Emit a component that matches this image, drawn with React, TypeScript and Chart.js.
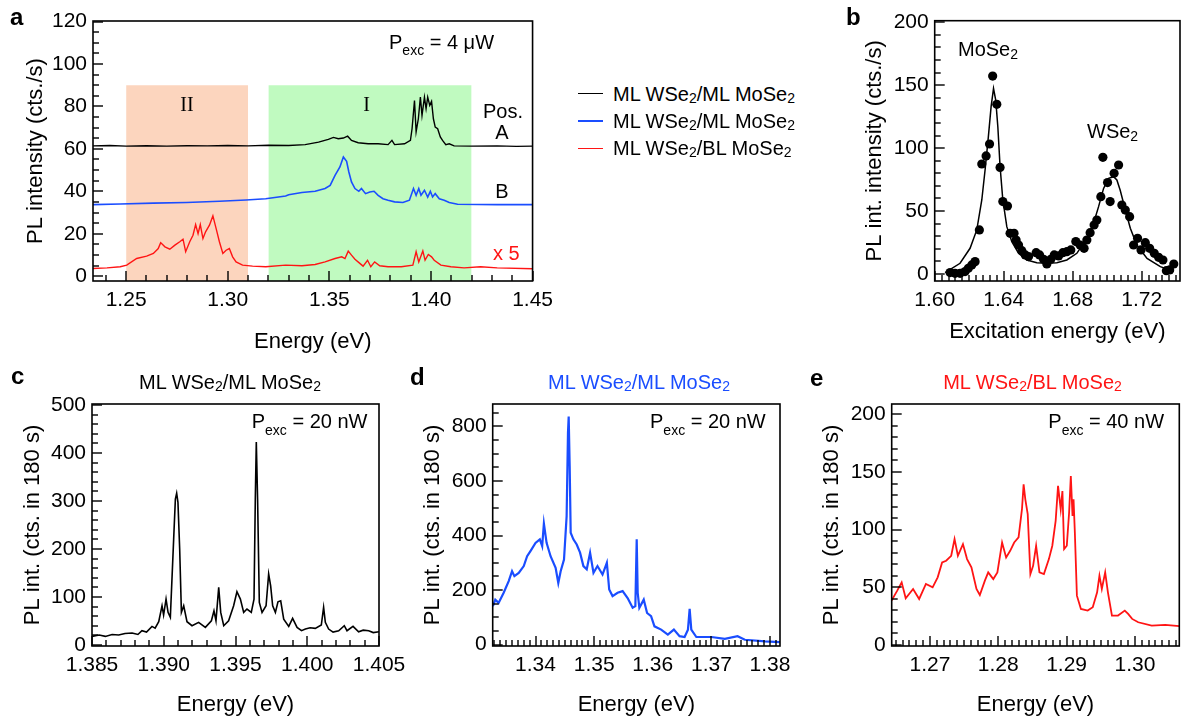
import React, { useEffect, useRef } from 'react';
import { Chart, registerables } from 'chart.js';

Chart.register(...registerables);

type Pt = [number, number];

const FONT = '"Liberation Sans", Arial, Helvetica, sans-serif';
const SERIF = '"Liberation Serif", "Times New Roman", serif';
const C_BLACK = '#000000';
const C_BLUE = '#1a4dff';
const C_RED = '#ff1414';
const C_ORANGE = 'rgb(252,213,190)';
const C_GREEN = 'rgb(192,250,192)';

// ---------------- Panel a ----------------
const aXTicks = [1.25, 1.3, 1.35, 1.4, 1.45];
const aYTicks = [0, 20, 40, 60, 80, 100, 120];
const aRegionII: Pt[] = [[1.25, 90], [1.31, 90]];
const aRegionI: Pt[] = [[1.32, 90], [1.42, 90]];
const aPosA: Pt[] = [
  [1.2337, 61.4], [1.242, 61.6], [1.25, 61.3], [1.26, 61.5], [1.27, 61.3], [1.28, 61.5], [1.29, 61.4],
  [1.3, 61.6], [1.31, 61.4], [1.32, 61.7], [1.33, 61.6], [1.3381, 62.0], [1.3447, 63.2], [1.3495, 64.5],
  [1.352, 65.4], [1.3544, 64.8], [1.3569, 65.1], [1.359, 66.0], [1.3609, 64.0], [1.3642, 62.9], [1.3691, 62.4],
  [1.374, 62.4], [1.3789, 62.0], [1.3808, 64.0], [1.3821, 62.0], [1.387, 62.4], [1.3899, 64.0], [1.3907, 69.5],
  [1.3919, 82.8], [1.3927, 68.0], [1.3938, 74.2], [1.3948, 84.4], [1.3956, 75.8], [1.3968, 84.4], [1.3976, 78.9],
  [1.3984, 84.4], [1.3994, 80.5], [1.4003, 82.4], [1.4012, 74.2], [1.4021, 70.3], [1.4033, 69.5], [1.4046, 65.6],
  [1.4057, 64.0], [1.4073, 62.0], [1.409, 62.4], [1.4114, 61.4], [1.42, 61.3], [1.4326, 61.4], [1.442, 61.2], [1.45, 61.3],
];
const aPosB: Pt[] = [
  [1.2337, 33.7], [1.2471, 34.0], [1.2634, 34.4], [1.2797, 34.7], [1.2959, 35.3], [1.309, 35.9], [1.3187, 36.5],
  [1.3285, 37.8], [1.33, 38.4], [1.3365, 39.4], [1.343, 40.0], [1.3479, 41.3], [1.3504, 42.8], [1.3528, 47.5],
  [1.3552, 51.5], [1.3569, 56.2], [1.3585, 54.1], [1.3596, 49.1], [1.3609, 44.4], [1.3626, 41.3], [1.3645, 40.0],
  [1.3658, 41.3], [1.3678, 38.9], [1.3699, 39.7], [1.372, 40.0], [1.374, 38.1], [1.3764, 36.5], [1.3789, 35.8],
  [1.3821, 35.0], [1.3862, 34.7], [1.3894, 35.8], [1.3914, 41.3], [1.3927, 38.1], [1.394, 41.3], [1.3951, 38.1],
  [1.3968, 40.5], [1.3984, 37.3], [1.3997, 40.0], [1.4008, 37.3], [1.4021, 38.9], [1.4041, 36.5], [1.4065, 35.8],
  [1.409, 34.7], [1.4131, 33.9], [1.4326, 33.7], [1.45, 33.7],
];
const aBL: Pt[] = [
  [1.2337, 3.6], [1.2406, 3.9], [1.2471, 4.4], [1.2503, 5.2], [1.2552, 8.3], [1.2601, 9.4], [1.2634, 10.7],
  [1.2658, 13.0], [1.267, 15.8], [1.2691, 13.8], [1.2715, 12.7], [1.274, 14.6], [1.2764, 16.2], [1.278, 17.4],
  [1.2793, 11.5], [1.2813, 16.2], [1.2829, 19.3], [1.2842, 24.3], [1.2854, 20.0], [1.2865, 24.3], [1.2878, 17.7],
  [1.2891, 20.9], [1.291, 24.0], [1.2927, 28.4], [1.2943, 22.4], [1.2959, 16.2], [1.2976, 10.7], [1.2992, 12.2],
  [1.3008, 13.0], [1.3024, 9.1], [1.3041, 6.7], [1.3073, 5.2], [1.3122, 4.7], [1.3187, 4.4], [1.3285, 5.2],
  [1.3365, 4.9], [1.343, 5.5], [1.3479, 6.7], [1.3528, 8.3], [1.3561, 9.1], [1.3577, 8.3], [1.3593, 11.8],
  [1.3609, 9.9], [1.3626, 8.0], [1.365, 6.0], [1.3666, 4.7], [1.3688, 7.5], [1.3704, 4.4], [1.3723, 6.7],
  [1.3748, 4.9], [1.3789, 4.4], [1.3854, 4.4], [1.3911, 5.2], [1.3927, 11.5], [1.394, 6.7], [1.396, 11.9],
  [1.3971, 7.5], [1.3987, 10.2], [1.4003, 9.1], [1.4016, 7.5], [1.4049, 5.2], [1.4098, 4.4], [1.4163, 3.9],
  [1.4244, 4.4], [1.4326, 3.9], [1.45, 3.5],
];

// ---------------- Panel b ----------------
const bXTicks = [1.6, 1.64, 1.68, 1.72];
const bYTicks = [0, 50, 100, 150, 200];
const bPoints: Pt[] = [
  [1.6089, 1.1], [1.6118, 0.5], [1.6147, 0.5], [1.6176, 1.9], [1.6195, 4.5], [1.6215, 7.2], [1.6234, 9.8],
  [1.6259, 35.0], [1.6273, 87.4], [1.6298, 93.8], [1.6318, 103.3], [1.6336, 157.3], [1.636, 134.8], [1.6379, 84.7],
  [1.6395, 57.5], [1.6422, 54.0], [1.6437, 32.3], [1.646, 32.3], [1.6472, 27.0], [1.6486, 23.0], [1.6505, 18.5],
  [1.6525, 15.1], [1.6544, 13.8], [1.6588, 16.9], [1.6608, 15.1], [1.6631, 11.7], [1.665, 7.9], [1.6673, 11.7],
  [1.6693, 15.1], [1.6718, 14.3], [1.6743, 16.9], [1.6766, 17.7], [1.6789, 19.1], [1.6818, 25.7], [1.6843, 23.0],
  [1.6866, 20.4], [1.6882, 27.0], [1.6901, 32.8], [1.6924, 38.9], [1.694, 42.9], [1.6963, 61.4], [1.6975, 92.7],
  [1.7002, 72.6], [1.7017, 57.5], [1.704, 80.0], [1.7066, 86.6], [1.7085, 54.8], [1.7105, 50.8], [1.713, 45.5],
  [1.7153, 23.0], [1.7176, 28.3], [1.7196, 19.1], [1.7221, 24.9], [1.7246, 20.4], [1.7273, 16.4], [1.7298, 13.2],
  [1.7323, 11.1], [1.7343, 2.6], [1.7362, 3.2], [1.7386, 7.9],
];
const bFit: Pt[] = [
  [1.606, 1.0], [1.6147, 8.5], [1.6205, 20.4], [1.6244, 35.0], [1.6273, 58.8], [1.6292, 82.6], [1.6311, 109.0],
  [1.6327, 133.0], [1.6341, 147.5], [1.6354, 138.0], [1.6366, 117.0], [1.6379, 85.3], [1.6395, 58.8], [1.6418, 37.6],
  [1.6447, 25.7], [1.6486, 16.4], [1.6534, 11.1], [1.6592, 9.0], [1.665, 8.5], [1.6708, 9.0], [1.6766, 11.1],
  [1.6824, 16.4], [1.6882, 28.3], [1.6921, 40.3], [1.695, 53.5], [1.6979, 68.0], [1.7008, 76.0], [1.7037, 77.3],
  [1.7056, 74.7], [1.7075, 66.7], [1.7105, 50.8], [1.7134, 36.3], [1.7172, 23.0], [1.7231, 12.4], [1.7308, 5.8],
  [1.7386, 1.9],
];

// ---------------- Panel c ----------------
const cXTicks = [1.385, 1.39, 1.395, 1.4, 1.405];
const cYTicks = [0, 100, 200, 300, 400, 500];
const cSpec: Pt[] = [
  [1.385, 18], [1.3855, 21], [1.38593, 18], [1.3864, 22], [1.38686, 20.8], [1.3873, 24], [1.38779, 25], [1.3882, 22],
  [1.38848, 29.8], [1.3888, 27], [1.38918, 38.8], [1.3894, 35], [1.38965, 48.6],
  [1.38988, 81.8], [1.38999, 62.4], [1.39016, 95.7], [1.3903, 68], [1.39046, 57.6], [1.39069, 220], [1.39081, 303.8],
  [1.3909, 316], [1.39099, 297], [1.39111, 200], [1.39123, 68], [1.39139, 81.8], [1.39162, 48.6], [1.39197, 40.2],
  [1.39243, 47.2], [1.3929, 36.8], [1.39332, 50.6], [1.3935, 71.4], [1.39364, 50.6], [1.39383, 120], [1.39397, 68],
  [1.39418, 40.2], [1.39452, 50.6], [1.39487, 81.8], [1.3951, 111], [1.39534, 95.7], [1.39557, 68], [1.3958, 75],
  [1.3961, 68], [1.39629, 95.7], [1.39638, 303.8], [1.39645, 423], [1.39654, 303.8], [1.39666, 88.8], [1.39685, 68],
  [1.39713, 81.8], [1.39731, 148], [1.39745, 123], [1.39759, 81.8], [1.39778, 68], [1.39796, 90], [1.39815, 92],
  [1.39836, 54], [1.39871, 38.8], [1.39898, 55.5], [1.39929, 36.8], [1.3996, 30], [1.39987, 33.3], [1.4002, 36],
  [1.40056, 34.7], [1.40098, 41.6],
  [1.40114, 78.4], [1.40126, 47.2], [1.40149, 33.3], [1.4018, 27], [1.40219, 29.8], [1.40258, 40.2], [1.40277, 29.8],
  [1.40319, 38.8], [1.40358, 27.7], [1.4039, 31], [1.40428, 29.8], [1.4046, 26], [1.40502, 27.7],
];

// ---------------- Panel d ----------------
const dXTicks = [1.34, 1.35, 1.36, 1.37, 1.38];
const dYTicks = [0, 200, 400, 600, 800];
const dSpec: Pt[] = [
  [1.33274, 141], [1.33314, 165], [1.33371, 153], [1.33457, 190], [1.33543, 233], [1.336, 269], [1.3364, 251],
  [1.33714, 263], [1.338, 288], [1.33857, 324], [1.33914, 343], [1.34, 373], [1.34074, 386], [1.34114, 361],
  [1.34143, 444], [1.34189, 373], [1.34257, 324], [1.34343, 282], [1.34389, 226], [1.34429, 269], [1.34486, 312],
  [1.34531, 471], [1.34554, 777], [1.34566, 836], [1.34583, 655], [1.346, 410], [1.34646, 386], [1.34703, 367],
  [1.3476, 337], [1.34817, 288], [1.34874, 276], [1.34931, 337], [1.34989, 263], [1.35057, 288], [1.35143, 257],
  [1.35217, 300], [1.35257, 202], [1.35314, 178], [1.354, 190], [1.35486, 196], [1.35571, 171], [1.35657, 135],
  [1.35703, 141], [1.35726, 386], [1.35743, 190], [1.35771, 135], [1.35846, 165], [1.35903, 116], [1.35971, 104],
  [1.36029, 67], [1.36143, 55], [1.36257, 37], [1.3636, 55], [1.36457, 31], [1.36543, 28], [1.366, 55],
  [1.36629, 131], [1.36657, 55], [1.36743, 28], [1.37, 28], [1.37229, 21], [1.37446, 31], [1.37571, 18],
  [1.37914, 12], [1.38171, 9],
];

// ---------------- Panel e ----------------
const eXTicks = [1.27, 1.28, 1.29, 1.3];
const eYTicks = [0, 50, 100, 150, 200];
const eSpec: Pt[] = [
  [1.26438, 38.4], [1.26521, 47], [1.26586, 54.2], [1.26645, 40.4], [1.26753, 48.5], [1.26842, 39.8], [1.26941, 52.8],
  [1.27039, 49.9], [1.27113, 58.6], [1.27178, 71.5], [1.27237, 73], [1.27311, 77.3], [1.2736, 91.7], [1.27409, 77.3],
  [1.27483, 87.4], [1.27543, 74.4], [1.27607, 67.2], [1.27681, 48.5], [1.2773, 43.3], [1.27804, 55.7], [1.27853, 62.9],
  [1.27927, 57.1], [1.27987, 62.9], [1.28056, 88.8], [1.28115, 75.9], [1.28174, 81.6], [1.28233, 88.8], [1.28297, 93.2],
  [1.28347, 117.7], [1.28371, 139.3], [1.28396, 126.3], [1.28431, 113.4], [1.2847, 61.4], [1.2851, 68.6], [1.28554, 86],
  [1.28603, 62.9], [1.28668, 61.4], [1.28741, 74.4], [1.28791, 86], [1.2884, 107.6], [1.28875, 137.9], [1.28914, 117.7],
  [1.28939, 133.5], [1.28964, 83.1], [1.29003, 86], [1.29037, 114.8], [1.29062, 146.5], [1.29087, 111.9], [1.29102, 126.3],
  [1.29121, 97.5], [1.29151, 42.7], [1.2921, 31.2], [1.29309, 29.7], [1.29383, 32.6], [1.29447, 45.6], [1.29481, 60],
  [1.29516, 48.5], [1.29565, 62.9], [1.29605, 45.6], [1.29664, 25.4], [1.29753, 25.4], [1.29852, 29.7], [1.29901, 26.8],
  [1.2996, 22.5], [1.30049, 19.6], [1.30246, 16.7], [1.30444, 17.3], [1.30651, 16.2],
];

// ---------------- helpers ----------------
const toXY = (pts: Pt[]) => pts.map(([x, y]) => ({ x, y }));

const lineDs = (pts: Pt[], color: string, width = 1.4) => ({
  data: toXY(pts),
  showLine: true,
  borderColor: color,
  borderWidth: width,
  pointRadius: 0,
  fill: false,
  tension: 0,
  order: 1,
});

const shadeDs = (pts: Pt[], color: string) => ({
  data: toXY(pts),
  showLine: true,
  borderColor: 'rgba(0,0,0,0)',
  borderWidth: 1,
  backgroundColor: color,
  pointRadius: 0,
  fill: 'start',
  order: 9,
});

function tickValues(lo: number, hi: number, step: number): number[] {
  const out: number[] = [];
  const k0 = Math.ceil(lo / step - 1e-6);
  const k1 = Math.floor(hi / step + 1e-6);
  for (let k = k0; k <= k1; k++) out.push(k * step);
  return out;
}

function makeFramePlugin(p: { xr: [number, number]; yr: [number, number]; xTicks: number[]; yTicks: number[]; xMinor: number; yMinor: number }) {
  const MAJOR = 10;
  const MINOR = 6;
  const W = 1.4;
  const isMajor = (list: number[], v: number, step: number) => list.some((m) => Math.abs(m - v) < step * 0.01);
  return {
    id: 'frameTicks',
    afterDraw(chart: any) {
      const ctx = chart.ctx;
      const a = chart.chartArea;
      const xs = chart.scales.x;
      const ys = chart.scales.y;
      ctx.save();
      ctx.fillStyle = '#000';
      const xv = tickValues(p.xr[0], p.xr[1], p.xMinor);
      for (let i = 0; i < xv.length; i++) {
        const v = xv[i];
        const px = Math.round(xs.getPixelForValue(v));
        const len = isMajor(p.xTicks, v, p.xMinor) ? MAJOR : MINOR;
        ctx.fillRect(px - W / 2, a.bottom - len, W, len);
      }
      const yv = tickValues(p.yr[0], p.yr[1], p.yMinor);
      for (let i = 0; i < yv.length; i++) {
        const v = yv[i];
        const py = Math.round(ys.getPixelForValue(v));
        const len = isMajor(p.yTicks, v, p.yMinor) ? MAJOR : MINOR;
        ctx.fillRect(a.left, py - W / 2, len, W);
      }
      ctx.strokeStyle = '#000';
      ctx.lineWidth = 1.6;
      ctx.strokeRect(a.left, a.top, a.right - a.left, a.bottom - a.top);
      ctx.restore();
    },
  };
}

interface Spec {
  datasets: any[];
  xr: [number, number];
  yr: [number, number];
  xTicks: number[];
  yTicks: number[];
  xDec: number;
  xMinor: number;
  yMinor: number;
  pad: { left: number; top: number; right: number; bottom: number };
  yW: number;
  xH: number;
  xTitle: string;
  yTitle: string;
}

function makeConfig(p: Spec): any {
  const tickFont = { family: FONT, size: 21 };
  const titleFont = { family: FONT, size: 22 };
  return {
    type: 'scatter',
    data: { datasets: p.datasets },
    options: {
      animation: false,
      responsive: false,
      devicePixelRatio: 1,
      events: [],
      layout: { padding: p.pad },
      plugins: {
        legend: { display: false },
        tooltip: { enabled: false },
      },
      scales: {
        x: {
          type: 'linear',
          position: 'bottom',
          min: p.xr[0],
          max: p.xr[1],
          grid: { display: false, drawTicks: false },
          border: { display: false },
          afterBuildTicks: (s: any) => {
            s.ticks = p.xTicks.map((v) => ({ value: v }));
          },
          afterFit: (s: any) => {
            s.height = p.xH;
          },
          ticks: {
            color: '#000',
            font: tickFont,
            padding: 7,
            maxRotation: 0,
            minRotation: 0,
            autoSkip: false,
            callback: (v: any) => Number(v).toFixed(p.xDec),
          },
          title: { display: true, text: p.xTitle, color: '#000', font: titleFont, padding: 0 },
        },
        y: {
          type: 'linear',
          position: 'left',
          min: p.yr[0],
          max: p.yr[1],
          grid: { display: false, drawTicks: false },
          border: { display: false },
          afterBuildTicks: (s: any) => {
            s.ticks = p.yTicks.map((v) => ({ value: v }));
          },
          afterFit: (s: any) => {
            s.width = p.yW;
          },
          ticks: {
            color: '#000',
            font: tickFont,
            padding: 6,
            autoSkip: false,
            callback: (v: any) => String(Math.round(Number(v))),
          },
          title: { display: true, text: p.yTitle, color: '#000', font: titleFont, padding: 0 },
        },
      },
    },
    plugins: [makeFramePlugin(p)],
  };
}

function ChartBox({ box, spec }: { box: [number, number, number, number]; spec: Spec }) {
  const ref = useRef<HTMLCanvasElement>(null);
  useEffect(() => {
    const c = new Chart(ref.current as HTMLCanvasElement, makeConfig(spec));
    return () => c.destroy();
  }, []);
  const [l, t, w, h] = box;
  return (
    <canvas
      ref={ref}
      width={w}
      height={h}
      style={{ position: 'absolute', left: l, top: t, width: w, height: h }}
    />
  );
}

function Txt(props: {
  x: number;
  base: number;
  size?: number;
  color?: string;
  align?: 'left' | 'center';
  bold?: boolean;
  serif?: boolean;
  children: React.ReactNode;
}) {
  const size = props.size ?? 20;
  const top = props.base - 0.8465 * size;
  return (
    <div
      style={{
        position: 'absolute',
        left: props.x,
        top,
        transform: props.align === 'center' ? 'translateX(-50%)' : undefined,
        fontFamily: props.serif ? SERIF : FONT,
        fontSize: size,
        lineHeight: `${size}px`,
        color: props.color ?? '#000',
        fontWeight: props.bold ? 'bold' : 'normal',
        whiteSpace: 'nowrap',
      }}
    >
      {props.children}
    </div>
  );
}

const Sub = ({ children, drop = 0.2 }: { children: React.ReactNode; drop?: number }) => (
  <span style={{ fontSize: '0.7em', position: 'relative', top: `${drop}em`, lineHeight: 0 }}>{children}</span>
);

const Pexc = ({ v }: { v: string }) => (
  <>
    P<Sub drop={0.45}>exc</Sub> = {v}
  </>
);

const WSeML = () => (
  <>
    ML WSe<Sub>2</Sub>/ML MoSe<Sub>2</Sub>
  </>
);
const WSeBL = () => (
  <>
    ML WSe<Sub>2</Sub>/BL MoSe<Sub>2</Sub>
  </>
);

const specA: Spec = {
  datasets: [
    lineDs(aPosA, C_BLACK, 1.4),
    lineDs(aPosB, C_BLUE, 1.6),
    lineDs(aBL, C_RED, 1.4),
    shadeDs(aRegionII, C_ORANGE),
    shadeDs(aRegionI, C_GREEN),
  ],
  xr: [1.2337, 1.45],
  yr: [-2.3, 120.3],
  xTicks: aXTicks,
  yTicks: aYTicks,
  xDec: 2,
  xMinor: 0.01,
  yMinor: 5,
  pad: { left: 22.5, top: 21, right: 24, bottom: 5 },
  yW: 70.5,
  xH: 74,
  xTitle: 'Energy (eV)',
  yTitle: 'PL intensity (cts./s)',
};

const specB: Spec = {
  datasets: [
    {
      data: toXY(bPoints),
      showLine: false,
      pointRadius: 4.6,
      pointBackgroundColor: '#000',
      pointBorderWidth: 0,
      pointBorderColor: '#000',
      order: 0,
    },
    lineDs(bFit, C_BLACK, 1.5),
  ],
  xr: [1.6, 1.7422],
  yr: [-5.6, 201.3],
  xTicks: bXTicks,
  yTicks: bYTicks,
  xDec: 2,
  xMinor: 0.004,
  yMinor: 10,
  pad: { left: 21.8, top: 20.7, right: 6, bottom: 14.8 },
  yW: 72.9,
  xH: 64.2,
  xTitle: 'Excitation energy (eV)',
  yTitle: 'PL int. intensity (cts./s)',
};

const specC: Spec = {
  datasets: [lineDs(cSpec, C_BLACK, 1.6)],
  xr: [1.385, 1.405],
  yr: [-2, 502],
  xTicks: cXTicks,
  yTicks: cYTicks,
  xDec: 3,
  xMinor: 0.001,
  yMinor: 20,
  pad: { left: 20, top: 44, right: 51, bottom: 7 },
  yW: 72,
  xH: 72,
  xTitle: 'Energy (eV)',
  yTitle: 'PL int. (cts. in 180 s)',
};

const specD: Spec = {
  datasets: [lineDs(dSpec, C_BLUE, 2.2)],
  xr: [1.3327, 1.3817],
  yr: [-5, 882],
  xTicks: dXTicks,
  yTicks: dYTicks,
  xDec: 2,
  xMinor: 0.001,
  yMinor: 50,
  pad: { left: 19.8, top: 44, right: 20, bottom: 7 },
  yW: 72.9,
  xH: 72,
  xTitle: 'Energy (eV)',
  yTitle: 'PL int. (cts. in 180 s)',
};

const specE: Spec = {
  datasets: [lineDs(eSpec, C_RED, 1.8)],
  xr: [1.2644, 1.3065],
  yr: [-1, 209],
  xTicks: eXTicks,
  yTicks: eYTicks,
  xDec: 2,
  xMinor: 0.001,
  yMinor: 10,
  pad: { left: 28.5, top: 44, right: 6.7, bottom: 7 },
  yW: 73.2,
  xH: 72,
  xTitle: 'Energy (eV)',
  yTitle: 'PL int. (cts. in 180 s)',
};

const LegendLine = ({ y, color }: { y: number; color: string }) => (
  <div style={{ position: 'absolute', left: 578, top: y - 0.75, width: 25, height: 1.5, background: color }} />
);

export default function App() {
  return (
    <div
      style={{
        position: 'absolute',
        left: 0,
        top: 0,
        width: 1186,
        height: 725,
        background: '#fff',
        overflow: 'hidden',
      }}
    >
      <ChartBox box={[0, 0, 560, 360]} spec={specA} />
      <ChartBox box={[840, 0, 346, 360]} spec={specB} />
      <ChartBox box={[0, 360, 430, 365]} spec={specC} />
      <ChartBox box={[400, 360, 400, 365]} spec={specD} />
      <ChartBox box={[790, 360, 396, 365]} spec={specE} />

      {/* panel letters */}
      <Txt x={10} base={25} size={24} bold>a</Txt>
      <Txt x={846} base={25} size={24} bold>b</Txt>
      <Txt x={11} base={384} size={24} bold>c</Txt>
      <Txt x={410} base={385} size={24} bold>d</Txt>
      <Txt x={810} base={386} size={24} bold>e</Txt>

      {/* panel a annotations */}
      <Txt x={389} base={48.5}><Pexc v="4 μW" /></Txt>
      <Txt x={187} base={111} serif align="center">II</Txt>
      <Txt x={366.5} base={111} serif align="center">I</Txt>
      <Txt x={483} base={117.5}>Pos.</Txt>
      <Txt x={502} base={138.5} align="center">A</Txt>
      <Txt x={502} base={197.5} align="center">B</Txt>
      <Txt x={493} base={259.5} color={C_RED}>x 5</Txt>

      {/* legend */}
      <LegendLine y={93.5} color={C_BLACK} />
      <LegendLine y={121} color={C_BLUE} />
      <LegendLine y={148.5} color={C_RED} />
      <Txt x={613} base={100.5}><WSeML /></Txt>
      <Txt x={613} base={127.5}><WSeML /></Txt>
      <Txt x={613} base={154.5}><WSeBL /></Txt>

      {/* panel b annotations */}
      <Txt x={958} base={56}>MoSe<Sub>2</Sub></Txt>
      <Txt x={1087} base={137.7}>WSe<Sub>2</Sub></Txt>

      {/* panel c, d, e titles */}
      <Txt x={230} base={388.5} align="center"><WSeML /></Txt>
      <Txt x={639} base={388.5} align="center" color={C_BLUE}><WSeML /></Txt>
      <Txt x={1032.5} base={388.5} align="center" color={C_RED}><WSeBL /></Txt>

      <Txt x={251.7} base={428.3}><Pexc v="20 nW" /></Txt>
      <Txt x={650} base={428.3}><Pexc v="20 nW" /></Txt>
      <Txt x={1048.3} base={428.3}><Pexc v="40 nW" /></Txt>
    </div>
  );
}
